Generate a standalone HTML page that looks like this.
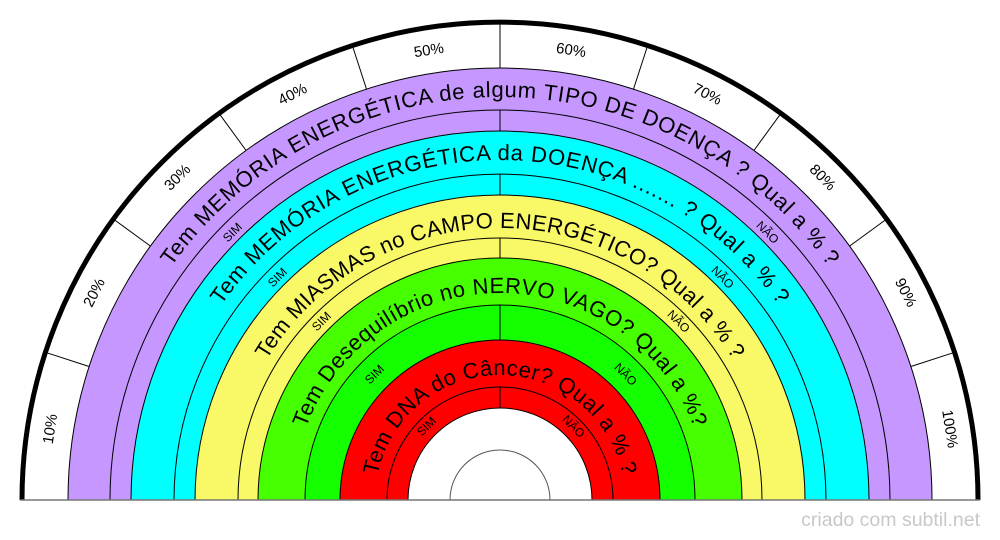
<!DOCTYPE html>
<html><head><meta charset="utf-8"><style>
html,body{margin:0;padding:0;background:#fff;}
svg{display:block;font-family:"Liberation Sans",sans-serif;}
</style></head><body>
<svg width="1000" height="540" viewBox="0 0 1000 540" xmlns="http://www.w3.org/2000/svg">
<defs>
<path id="p1" d="M 97 500 A 403 403 0 0 1 903 500"/>
<path id="p2" d="M 160 500 A 340 340 0 0 1 840 500"/>
<path id="p3" d="M 228 500 A 272 272 0 0 1 772 500"/>
<path id="p4" d="M 293 500 A 207 207 0 0 1 707 500"/>
<path id="p5" d="M 375 500 A 125 125 0 0 1 625 500"/>
</defs>
<g stroke="#000" stroke-width="1">
<path d="M22 500 A478 478 0 0 1 978 500 Z" fill="#fff" stroke="none"/>
<path d="M68 500 A432 432 0 0 1 932 500 Z" fill="#c597ff"/>
<path d="M110 500 A390 390 0 0 1 890 500 Z" fill="#c597ff"/>
<path d="M131 500 A369 369 0 0 1 869 500 Z" fill="#00ffff"/>
<path d="M174 500 A326 326 0 0 1 826 500 Z" fill="#00ffff"/>
<path d="M195 500 A305 305 0 0 1 805 500 Z" fill="#f9f967"/>
<path d="M238 500 A262 262 0 0 1 762 500 Z" fill="#f9f967"/>
<path d="M258 500 A242 242 0 0 1 742 500 Z" fill="#46ff00"/>
<path d="M305 500 A195 195 0 0 1 695 500 Z" fill="#14ff00"/>
<path d="M340 500 A160 160 0 0 1 660 500 Z" fill="#ff0000"/>
<path d="M387 500 A113 113 0 0 1 613 500 Z" fill="#ff0000"/>
<path d="M408 500 A92 92 0 0 1 592 500 Z" fill="#fff"/>
<path d="M450 500 A50 50 0 0 1 550 500" fill="none" stroke="#555"/>
<line x1="500" y1="110" x2="500" y2="131"/>
<line x1="500" y1="174" x2="500" y2="195"/>
<line x1="500" y1="238" x2="500" y2="258"/>
<line x1="500" y1="305" x2="500" y2="340"/>
<line x1="500" y1="387" x2="500" y2="408"/>
</g>
<g stroke="#000" stroke-width="1">
<line x1="89.1" y1="366.5" x2="45.4" y2="352.3"/>
<line x1="150.5" y1="246.1" x2="113.3" y2="219.0"/>
<line x1="246.1" y1="150.5" x2="219.0" y2="113.3"/>
<line x1="366.5" y1="89.1" x2="352.3" y2="45.4"/>
<line x1="500" y1="68" x2="500" y2="22"/>
<line x1="633.5" y1="89.1" x2="647.7" y2="45.4"/>
<line x1="753.9" y1="150.5" x2="781.0" y2="113.3"/>
<line x1="849.5" y1="246.1" x2="886.7" y2="219.0"/>
<line x1="910.9" y1="366.5" x2="954.6" y2="352.3"/>
</g>
<path d="M22 500 A478 478 0 0 1 978 500" fill="none" stroke="#000" stroke-width="5"/>
<line x1="20" y1="500" x2="980" y2="500" stroke="#777" stroke-width="1.5"/>
<g font-size="15" text-anchor="middle" dominant-baseline="middle" fill="#000">
<text transform="translate(51,429) rotate(-81)">10%</text>
<text transform="translate(95,293) rotate(-63)">20%</text>
<text transform="translate(178,178) rotate(-45)">30%</text>
<text transform="translate(293,95) rotate(-27)">40%</text>
<text transform="translate(429,51) rotate(-9)">50%</text>
<text transform="translate(571,51) rotate(9)">60%</text>
<text transform="translate(707,95) rotate(27)">70%</text>
<text transform="translate(822,178) rotate(45)">80%</text>
<text transform="translate(905,293) rotate(63)">90%</text>
<text transform="translate(949,429) rotate(81)">100%</text>
</g>
<g font-size="22" fill="#000" text-anchor="middle">
<text><textPath href="#p1" startOffset="50%" textLength="768" lengthAdjust="spacing">Tem MEMÓRIA ENERGÉTICA de algum TIPO DE DOENÇA ? Qual a % ?</textPath></text>
<text><textPath href="#p2" startOffset="50%" textLength="653" lengthAdjust="spacing">Tem MEMÓRIA ENERGÉTICA da DOENÇA ....... ?  Qual a % ?</textPath></text>
<text><textPath href="#p3" startOffset="50%" textLength="560" lengthAdjust="spacing">Tem MIASMAS no CAMPO ENERGÉTICO?  Qual a % ?</textPath></text>
<text><textPath href="#p4" startOffset="50%" textLength="503" lengthAdjust="spacing">Tem Desequilíbrio no NERVO VAGO? Qual a %?</textPath></text>
<text><textPath href="#p5" startOffset="50%" textLength="343" lengthAdjust="spacing">Tem DNA do Câncer?  Qual a % ?</textPath></text>
</g>
<g font-size="12" fill="#000" text-anchor="middle" dominant-baseline="middle">
<text transform="translate(233,233) rotate(-45)">SIM</text>
<text transform="translate(767,233) rotate(45)">NÃO</text>
<text transform="translate(278,278) rotate(-45)">SIM</text>
<text transform="translate(722,278) rotate(45)">NÃO</text>
<text transform="translate(322,322) rotate(-45)">SIM</text>
<text transform="translate(678,322) rotate(45)">NÃO</text>
<text transform="translate(375,375) rotate(-45)">SIM</text>
<text transform="translate(625,375) rotate(45)">NÃO</text>
<text transform="translate(427,427) rotate(-45)">SIM</text>
<text transform="translate(573,427) rotate(45)">NÃO</text>
</g>
<text x="980" y="526" font-size="19.5" fill="#c8c8c8" text-anchor="end">criado com subtil.net</text>
</svg>
</body></html>
